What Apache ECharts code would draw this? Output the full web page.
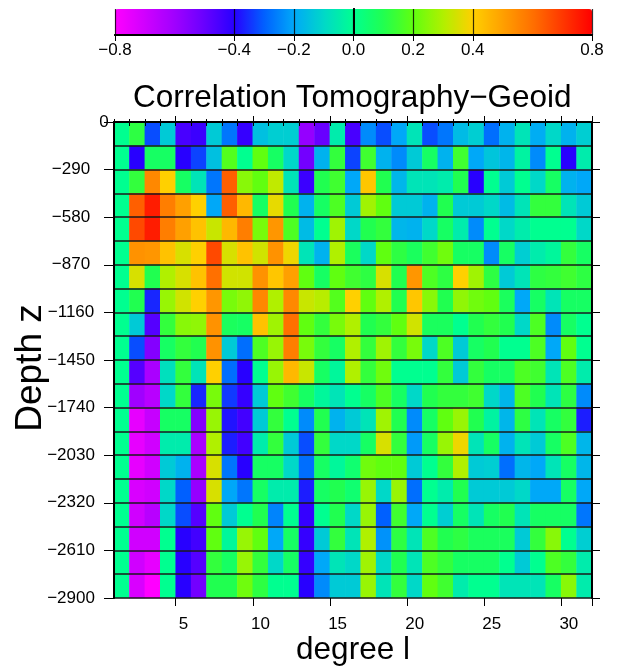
<!DOCTYPE html>
<html>
<head>
<meta charset="utf-8">
<script src="https://cdn.jsdelivr.net/npm/echarts@6/dist/echarts.min.js"></script>
<style>
  html, body { margin: 0; padding: 0; background: #fff; }
  #chart { width: 619px; height: 667px; }
</style>
</head>
<body>
<div id="chart"></div>
<script>
// spherical harmonic degree (columns)
const degrees = [1, 2, 3, 4, 5, 6, 7, 8, 9, 10, 11, 12, 13, 14, 15, 16,
  17, 18, 19, 20, 21, 22, 23, 24, 25, 26, 27, 28, 29, 30, 31];
// top of each depth layer (rows, top to bottom)
const depthRows = ['0', '-145', '-290', '-435', '-580', '-725', '-870', '-1015',
  '-1160', '-1305', '-1450', '-1595', '-1740', '-1885', '-2030', '-2175',
  '-2320', '-2465', '-2610', '-2755'];
const colorTicks = [-0.8, -0.4, -0.2, 0, 0.2, 0.4, 0.8];

// correlation, one row per depth layer
const corr = [
  [0.0, 0.12, -0.32, -0.13, -0.45, -0.43, -0.13, -0.27, -0.42, -0.15, -0.12, -0.12, -0.58, -0.5, -0.05, -0.45, -0.24, -0.32, -0.2, -0.07, -0.32, -0.27, -0.16, -0.12, -0.28, -0.18, -0.07, -0.19, -0.1, -0.18, -0.12],
  [0.0, -0.4, 0.07, 0.07, -0.4, -0.33, -0.15, 0.18, 0.0, 0.2, 0.07, -0.1, -0.52, -0.18, 0.13, -0.33, 0.15, -0.18, -0.24, -0.13, 0.07, -0.18, 0.15, -0.2, -0.14, -0.17, -0.03, -0.24, 0.0, -0.4, -0.05],
  [0.0, 0.13, 0.55, 0.4, 0.07, -0.07, -0.27, 0.63, 0.25, 0.2, 0.32, -0.07, -0.43, 0.1, 0.15, -0.2, 0.42, 0.1, -0.17, -0.07, -0.07, -0.05, 0.1, -0.4, 0.0, -0.13, 0.0, -0.1, 0.07, -0.18, -0.2],
  [0.0, 0.63, 0.75, 0.57, 0.5, 0.4, -0.2, 0.63, 0.45, 0.07, 0.37, 0.1, -0.18, 0.07, 0.17, -0.13, 0.28, 0.2, -0.13, -0.13, -0.18, 0.1, -0.13, -0.13, -0.1, -0.16, -0.07, 0.13, 0.13, -0.07, -0.13],
  [0.0, 0.67, 0.75, 0.57, 0.5, 0.43, 0.33, 0.45, 0.57, 0.23, 0.52, 0.17, -0.16, 0.0, 0.28, -0.1, 0.1, 0.13, -0.17, -0.18, -0.1, 0.07, -0.05, -0.24, 0.0, -0.1, -0.05, 0.0, 0.0, 0.0, -0.1],
  [0.0, 0.53, 0.52, 0.43, 0.35, 0.4, 0.67, 0.35, 0.43, 0.34, 0.53, 0.38, -0.07, -0.18, 0.3, 0.08, -0.1, 0.2, 0.12, 0.08, 0.15, 0.22, 0.07, 0.07, -0.24, 0.07, -0.12, -0.05, -0.02, 0.13, 0.07],
  [0.0, 0.35, 0.1, 0.3, 0.35, 0.43, 0.6, 0.34, 0.34, 0.53, 0.42, 0.5, 0.2, 0.07, 0.2, 0.15, 0.12, 0.35, 0.1, 0.52, 0.17, 0.12, 0.4, 0.28, 0.12, -0.13, -0.07, 0.12, 0.13, 0.15, 0.12],
  [0.0, 0.1, -0.36, 0.27, 0.34, 0.4, 0.52, 0.23, 0.26, 0.55, 0.3, 0.55, 0.33, 0.31, 0.18, 0.4, 0.2, 0.3, 0.1, 0.42, 0.25, 0.1, 0.26, 0.22, 0.2, 0.08, -0.2, 0.07, -0.07, 0.07, 0.07],
  [0.0, -0.13, -0.47, 0.13, 0.25, 0.26, 0.53, 0.08, 0.07, 0.43, 0.28, 0.6, 0.2, 0.13, 0.23, 0.3, 0.1, 0.13, 0.2, 0.34, 0.08, 0.08, 0.0, 0.1, 0.13, 0.1, -0.1, 0.17, -0.24, 0.07, 0.0],
  [0.0, -0.32, -0.55, 0.07, 0.13, 0.1, 0.53, -0.13, -0.28, 0.17, 0.27, 0.57, 0.23, 0.13, 0.07, 0.3, 0.13, 0.28, 0.13, 0.23, -0.1, 0.17, -0.13, 0.07, 0.1, 0.0, 0.0, 0.17, -0.2, 0.2, 0.0],
  [0.0, -0.47, -0.62, -0.08, 0.13, -0.07, 0.4, -0.28, -0.4, 0.0, 0.27, 0.45, 0.33, 0.07, -0.02, 0.3, 0.13, 0.22, 0.0, 0.0, 0.0, 0.13, -0.13, 0.13, 0.07, 0.07, 0.17, 0.15, -0.07, 0.17, -0.05],
  [0.0, -0.6, -0.65, -0.1, 0.13, -0.36, 0.23, -0.34, -0.42, -0.13, 0.2, 0.15, 0.07, -0.02, -0.07, 0.0, 0.07, 0.17, 0.07, -0.1, 0.1, 0.13, 0.13, 0.15, -0.1, -0.17, 0.17, 0.1, -0.07, 0.12, -0.24],
  [0.0, -0.75, -0.68, 0.07, 0.07, -0.55, 0.27, -0.38, -0.44, -0.13, 0.13, 0.0, -0.24, 0.1, -0.18, -0.13, -0.07, 0.28, 0.1, -0.24, 0.07, 0.2, 0.27, 0.1, -0.03, -0.17, 0.12, -0.07, 0.07, 0.13, -0.37],
  [0.0, -0.75, -0.7, -0.05, -0.05, -0.62, 0.3, -0.37, -0.44, -0.05, 0.13, -0.13, -0.32, 0.13, -0.1, -0.1, 0.07, 0.35, 0.13, -0.22, 0.07, 0.27, 0.38, -0.07, 0.07, -0.18, -0.07, -0.13, 0.07, 0.17, -0.17],
  [0.0, -0.75, -0.7, -0.13, -0.18, -0.62, 0.35, -0.27, -0.4, 0.07, 0.07, -0.1, -0.28, 0.07, -0.02, 0.05, 0.22, 0.2, 0.2, -0.13, 0.0, 0.13, 0.3, -0.13, -0.12, -0.28, -0.17, -0.2, -0.07, 0.07, -0.17],
  [0.0, -0.72, -0.7, -0.1, -0.3, -0.58, 0.35, -0.2, -0.27, 0.07, -0.05, -0.05, -0.37, 0.07, 0.1, 0.05, 0.27, -0.1, 0.27, -0.28, 0.0, -0.05, 0.1, -0.13, -0.13, -0.13, -0.1, -0.2, -0.2, 0.07, -0.2],
  [0.0, -0.7, -0.65, -0.1, -0.32, -0.47, 0.2, -0.13, 0.0, 0.1, -0.25, 0.0, -0.42, 0.0, 0.1, -0.1, 0.27, -0.3, 0.15, -0.2, 0.0, -0.12, 0.07, -0.07, 0.07, 0.1, -0.07, 0.07, 0.07, 0.07, -0.27],
  [0.0, -0.7, -0.7, 0.0, -0.4, -0.44, 0.2, -0.02, 0.27, 0.2, -0.2, 0.07, -0.42, -0.13, 0.13, -0.07, 0.3, -0.23, 0.12, -0.07, 0.17, 0.1, 0.12, 0.08, 0.08, 0.08, -0.13, 0.13, 0.25, 0.0, -0.12],
  [0.0, -0.7, -0.75, 0.0, -0.4, -0.47, 0.13, 0.07, 0.27, 0.13, -0.1, 0.07, -0.42, -0.2, -0.07, -0.1, 0.28, -0.1, 0.1, -0.07, 0.17, 0.13, 0.07, 0.07, 0.07, 0.0, -0.13, 0.0, 0.17, 0.13, -0.05],
  [0.0, -0.72, -0.8, 0.0, -0.4, -0.52, 0.1, 0.1, 0.22, 0.12, 0.0, 0.0, -0.4, -0.24, -0.13, -0.13, 0.27, -0.07, 0.13, -0.1, 0.2, 0.15, -0.05, 0.0, 0.0, -0.07, -0.07, -0.07, 0.07, 0.25, -0.05]
];

const font = 'Liberation Sans, Arial, Helvetica, sans-serif';
const minus = s => String(s).replace('-', '\u2212');

let heatData = [];
corr.forEach((row, r) => {
  row.forEach((v, c) => heatData.push([c, r, v]));
});

const chartDom = document.getElementById('chart');
const myChart = echarts.init(chartDom, null, { renderer: 'canvas' });

const blackLine = { color: '#000', width: 2 };

let option = {
  animation: false,
  backgroundColor: '#fff',
  textStyle: { fontFamily: font },
  title: {
    text: 'Correlation Tomography\u2212Geoid',
    left: 133,
    top: 82,
    padding: 0,
    textStyle: { fontSize: 31.5, fontWeight: 'normal', color: '#000', fontFamily: font }
  },
  grid: [
    { left: 114, top: 122, width: 478, height: 476, containLabel: false, outerBoundsMode: 'none' },
    { left: 115, top: 9, width: 477, height: 26, containLabel: false, outerBoundsMode: 'none' }
  ],
  xAxis: [
    {
      // cells + minor ticks + labels
      type: 'category', gridIndex: 0, data: degrees, position: 'bottom', z: 5,
      axisLine: { show: true, lineStyle: blackLine },
      axisTick: { show: true, interval: 0, length: 4, lineStyle: { color: '#000', width: 1 } },
      axisLabel: {
        interval: (i) => degrees[i] % 5 === 0,
        fontSize: 17, color: '#000', margin: 18, fontFamily: font
      },
      splitLine: { show: false },
      name: 'degree l', nameLocation: 'middle', nameGap: 36, nameMoveOverlap: false,
      nameTextStyle: { fontSize: 31.5, color: '#000', fontFamily: font }
    },
    {
      type: 'category', gridIndex: 0, data: degrees, position: 'top', z: 5,
      axisLine: { show: true, lineStyle: blackLine },
      axisTick: { show: true, interval: 0, length: 3, lineStyle: { color: '#000', width: 1 } },
      axisLabel: { show: false },
      splitLine: { show: false }
    },
    {
      // major ticks at multiples of 5
      type: 'category', gridIndex: 0, data: degrees, position: 'bottom', z: 5,
      axisLine: { show: false },
      axisTick: { show: true, interval: (i) => degrees[i] % 5 === 0, length: 8, lineStyle: { color: '#000', width: 1 } },
      axisLabel: { show: false },
      splitLine: { show: false }
    },
    {
      type: 'category', gridIndex: 0, data: degrees, position: 'top', z: 5,
      axisLine: { show: false },
      axisTick: { show: true, interval: (i) => degrees[i] % 5 === 0, length: 6, lineStyle: { color: '#000', width: 1 } },
      axisLabel: { show: false },
      splitLine: { show: false }
    },
    {
      // colour bar scale
      type: 'value', gridIndex: 1, min: -0.8, max: 0.8, position: 'bottom', z: 10,
      axisLine: { show: true, lineStyle: blackLine },
      axisTick: { show: true, customValues: colorTicks, length: 6, lineStyle: { color: '#000', width: 1 } },
      axisLabel: {
        customValues: colorTicks,
        formatter: (v) => minus(v.toFixed(1)),
        fontSize: 17, color: '#000', margin: 7, fontFamily: font
      },
      splitLine: { show: true, lineStyle: { color: '#000', width: 1.2, opacity: 0.8 } }
    },
    {
      type: 'value', gridIndex: 1, min: -0.8, max: 0.8, position: 'top', z: 10,
      axisLine: { show: true, lineStyle: blackLine },
      axisTick: { show: false }, axisLabel: { show: false }, splitLine: { show: false }
    }
  ],
  yAxis: [
    {
      // depth layers: cells + layer boundary lines
      type: 'category', gridIndex: 0, data: depthRows, inverse: true, z: 5,
      axisLine: { show: false }, axisTick: { show: false }, axisLabel: { show: false },
      splitLine: { show: true, interval: 0, lineStyle: { color: '#1a1a1a', width: 1.5 } }
    },
    {
      type: 'value', gridIndex: 0, min: -2900, max: 0, interval: 290, position: 'left', z: 5,
      axisLine: { show: true, lineStyle: blackLine },
      axisTick: { show: true, length: 10, lineStyle: { color: '#000', width: 1 } },
      axisLabel: {
        fontSize: 17, color: '#000', margin: 43, align: 'center', fontFamily: font,
        formatter: (v) => (v === 0 ? '{top|0}' : minus(v)),
        rich: { top: { fontSize: 17, color: '#000', fontFamily: font, padding: [0, 0, 0, 66] } }
      },
      splitLine: { show: false },
      name: 'Depth z', nameLocation: 'middle', nameGap: 65, nameMoveOverlap: false,
      nameTextStyle: { fontSize: 37, color: '#000', fontFamily: font, padding: [0, 16, 0, 0] }
    },
    {
      type: 'value', gridIndex: 0, min: -2900, max: 0, interval: 290, position: 'right', z: 5,
      axisLine: { show: true, lineStyle: blackLine },
      axisTick: { show: true, length: 8, lineStyle: { color: '#000', width: 1 } },
      axisLabel: { show: false },
      splitLine: { show: false }
    },
    {
      type: 'value', gridIndex: 1, min: 0, max: 1, position: 'left', z: 10,
      axisLine: { show: true, lineStyle: blackLine },
      axisTick: { show: false }, axisLabel: { show: false }, splitLine: { show: false }
    },
    {
      type: 'value', gridIndex: 1, min: 0, max: 1, position: 'right', z: 10,
      axisLine: { show: true, lineStyle: blackLine },
      axisTick: { show: false }, axisLabel: { show: false }, splitLine: { show: false }
    }
  ],
  visualMap: {
    type: 'continuous',
    min: -0.8,
    max: 0.8,
    seriesIndex: 0,
    orient: 'horizontal',
    left: 115,
    top: 9,
    itemWidth: 26,
    itemHeight: 477,
    padding: 0,
    calculable: false,
    hoverLink: false,
    inRange: {
      color: ['#ff00ff', '#d000ff', '#a000ff', '#6800ff', '#2800ff', '#0060ff', '#00a8f8',
        '#00d8c8', '#00ff90', '#20ff50', '#60ff10', '#b0f000', '#ffd000', '#ffa000',
        '#ff7000', '#ff3800', '#ff0000']
    }
  },
  series: [
    {
      type: 'heatmap',
      xAxisIndex: 0,
      yAxisIndex: 0,
      data: heatData,
      itemStyle: { borderWidth: 0 },
      emphasis: { disabled: true }
    }
  ]
};

option && myChart.setOption(option);
</script>
</body>
</html>
